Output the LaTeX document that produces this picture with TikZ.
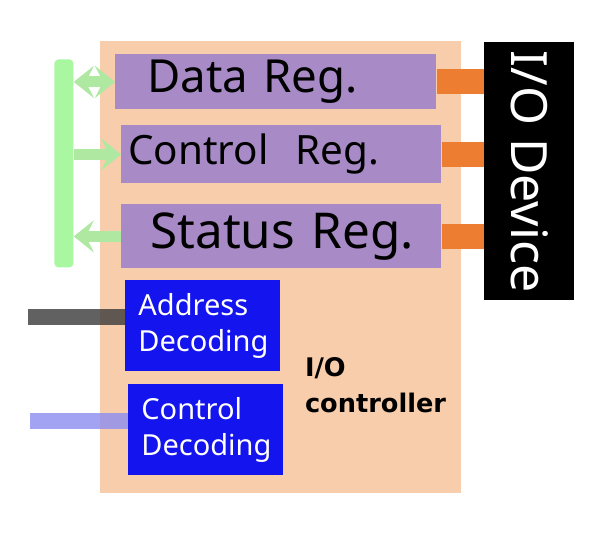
\documentclass[tikz,border=0pt]{standalone}
\usepackage{fontspec}
\setmainfont{Noto Sans}
\newfontfamily\ctrlbold{DejaVu Sans}
\usepackage{tikz}
\usetikzlibrary{arrows.meta}

\definecolor{peach}{HTML}{F7CDAC}
\definecolor{regpurple}{HTML}{A88BC6}
\definecolor{decblue}{HTML}{1414EE}
\definecolor{busgreen}{HTML}{A9F7A1}
\definecolor{arrgreen}{HTML}{AEE8A1}
\definecolor{portorange}{HTML}{ED7D31}
\definecolor{addrgray}{HTML}{3A3A3A}
\definecolor{ctrlblue}{HTML}{8C8CF0}

\begin{document}
\begin{tikzpicture}[x=0.5pt,y=-0.5pt]
% Block styles
\tikzset{
    reg/.style={fill=regpurple, anchor=north west, align=left, minimum height=#1, inner ysep=0pt},
    dec/.style={fill=decblue, text=white, anchor=north west, align=left, inner xsep=6.5pt,
        text width=64.5pt, minimum height=45.5pt, font=\fontsize{14.5}{18}\selectfont},
    port/.style={portorange, line width=12.5pt},
    bushead/.tip={Stealth[length=10pt, width=16pt, inset=4pt]},
    busarrow/.style={arrgreen, line width=5.5pt, arrows={-bushead}}
}
\useasboundingbox (0,0) rectangle (590,537);
% Controller and device
\node[fill=peach, anchor=north west, minimum width=180.5pt, minimum height=226pt] (Ctrl) at (100,41) {};
\node[fill=black, anchor=north west, minimum width=45pt, minimum height=129pt] (Dev) at (484,42) {};
\node[rotate=-90, text=white, font=\fontsize{25}{30}\selectfont] (DevTxt) at (Dev.center) {I/O Device};
\node[anchor=north west, align=left, font=\ctrlbold\bfseries\fontsize{12.8}{18}\selectfont] (CtrlTxt) at (298,350) {I/O\\controller};
% Registers
\node[reg=27.5pt, inner xsep=16pt, text width=128.5pt, font=\fontsize{22.8}{28}\selectfont] (DataReg) at (115,54) {Data~Reg.};
\node[reg=29pt, inner xsep=3.5pt, text width=153pt, font=\fontsize{20.2}{26}\selectfont] (CtrlReg) at (121,125) {Control~~Reg.};
\node[reg=32pt, inner xsep=14.5pt, text width=131pt, font=\fontsize{24.7}{30}\selectfont] (StatReg) at (121,204) {Status~Reg.};
% Bus
\node[fill=busgreen, rounded corners=2pt, anchor=north west, minimum width=9.5pt, minimum height=104pt] (Bus) at (54,59) {};
\draw[busarrow, arrows={bushead-bushead}] (Bus.east |- DataReg.west) -- (DataReg.west);
\draw[busarrow] (Bus.east |- CtrlReg.west) -- (CtrlReg.west);
\draw[busarrow] (StatReg.west) -- (Bus.east |- StatReg.west);
% Device ports
\draw[port] (DataReg.east) -- (DataReg.east -| Dev.west);
\draw[port] (CtrlReg.east) -- (CtrlReg.east -| Dev.west);
\draw[port] (StatReg.east) -- (StatReg.east -| Dev.west);
% Decoders
\coordinate (AddrIn) at (28,317);
\coordinate (CtrlIn) at (30,421);
\node[dec] (AddrDec) at (125,280) {Address\\Decoding};
\node[dec] (CtrlDec) at (128,384) {Control\\Decoding};
\draw[addrgray, line width=8pt, opacity=0.8] (AddrIn) -- (AddrIn -| AddrDec.west);
\draw[ctrlblue, line width=8pt, opacity=0.8] (CtrlIn) -- (CtrlIn -| CtrlDec.west);
\end{tikzpicture}
\end{document}
